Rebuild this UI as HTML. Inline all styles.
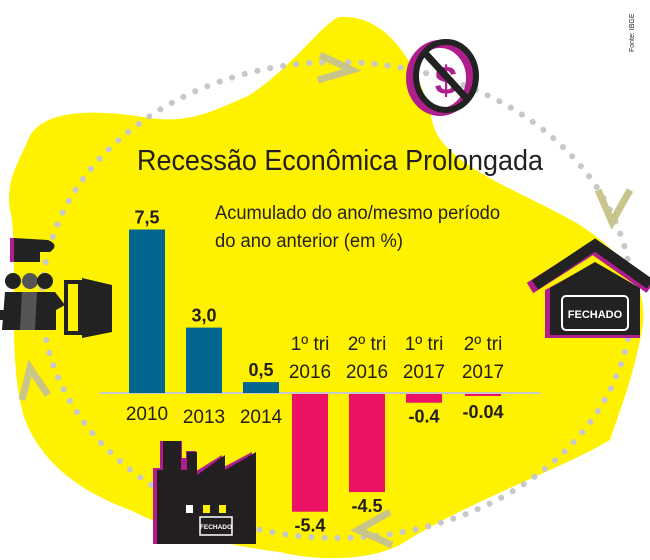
<!DOCTYPE html>
<html><head><meta charset="utf-8"><style>
html,body{margin:0;padding:0;background:#fff;}
#wrap{position:relative;width:650px;height:560px;overflow:hidden;font-family:"Liberation Sans",sans-serif;}
svg text{font-family:"Liberation Sans",sans-serif;}
</style></head><body>
<div id="wrap">
<svg id="chart" width="650" height="560" viewBox="0 0 650 560">
  <path fill="#fef200" d="M28,140 C40,110 90,108 150,118 C190,124 215,110 248,96 C290,70 325,20 340,17 C390,14 420,70 432,120 C440,165 520,190 580,225 C640,265 650,300 640,340 C632,380 620,410 610,440 C560,470 470,500 400,545 C370,560 320,562 280,552 C220,545 170,530 130,510 C90,495 45,470 25,420 C5,360 20,250 10,210 C5,180 20,160 28,140 Z"/>
  <ellipse cx="337" cy="300" rx="295" ry="238" fill="none" stroke="#c8c8c8" stroke-width="6" stroke-linecap="round" stroke-dasharray="0.1 13"/>
  <path d="M320,55 L352,70 L318,80" fill="none" stroke="#c8c48a" stroke-width="7"/>
  <path d="M598,190 L612,222 L630,190" fill="none" stroke="#c8c48a" stroke-width="7"/>
  <path d="M390,512 L358,530 L392,545" fill="none" stroke="#c8c48a" stroke-width="7"/>
  <path d="M22,400 L30,368 L48,395" fill="none" stroke="#c8c48a" stroke-width="7"/>
  <g>
    <ellipse cx="440" cy="78" rx="30" ry="34" fill="none" stroke="#b01e8e" stroke-width="8"/>
    <ellipse cx="446" cy="76" rx="30" ry="34" fill="none" stroke="#222" stroke-width="6"/>
    <text x="446" y="94" font-size="40" font-weight="bold" fill="#b01e8e" text-anchor="middle">$</text>
    <line x1="424" y1="52" x2="468" y2="100" stroke="#222" stroke-width="7"/>
  </g>
  <text x="634" y="52" font-size="7" fill="#222" transform="rotate(-90 634 52)">Fonte: IBGE</text>
  <text x="340" y="170" font-size="29" fill="#231f20" text-anchor="middle" textLength="406" lengthAdjust="spacingAndGlyphs">Recessão Econômica Prolongada</text>
  <text x="215" y="219" font-size="19" fill="#231f20" textLength="285" lengthAdjust="spacingAndGlyphs">Acumulado do ano/mesmo período</text>
  <text x="215" y="247" font-size="19" fill="#231f20" textLength="188" lengthAdjust="spacingAndGlyphs">do ano anterior (em %)</text>
  <g>
    <rect x="10" y="238" width="4" height="24" fill="#b01e8e"/>
    <path d="M14,238 L48,240 Q60,245 50,252 L40,252 L40,262 L14,262 Z" fill="#222"/>
    <circle cx="13" cy="281" r="8" fill="#222"/><circle cx="30" cy="281" r="8" fill="#555"/><circle cx="45" cy="281" r="8" fill="#222"/>
    <path d="M2,330 L5,292 L22,292 L24,330 Z" fill="#222"/><path d="M20,330 L22,292 L38,292 L40,330 Z" fill="#555"/><path d="M35,330 L37,292 L55,292 L65,305 L56,310 L56,330 Z" fill="#222"/>
    <rect x="0" y="310" width="10" height="10" fill="#222"/><rect x="38" y="312" width="10" height="10" fill="#222"/>
    <rect x="64" y="280" width="18" height="55" fill="#222"/><rect x="68" y="284" width="10" height="47" fill="#fef200"/>
    <path d="M82,278 L112,285 L112,332 L82,338 Z" fill="#222"/>
  </g>
  <g>
    <path d="M530,288 L593,248 L650,288" fill="none" stroke="#b01e8e" stroke-width="12"/>
    <path d="M535,285 L595,245 L650,284" fill="none" stroke="#222" stroke-width="11"/>
    <path d="M545,290 L595,263 L640,290 L640,338 L545,338 Z" fill="#b01e8e"/>
    <path d="M550,288 L595,262 L640,288 L640,335 L550,335 Z" fill="#222"/>
    <rect x="562" y="296" width="66" height="34" rx="4" fill="none" stroke="#fff" stroke-width="2"/>
    <text x="595" y="318" font-size="11" font-weight="bold" fill="#fff" text-anchor="middle">FECHADO</text>
  </g>
  <g>
    <path d="M153,544 L153,468 L160,468 L160,441 L182,441 L182,458 L186,458 L186,451 L196,451 L196,470 L198,470 L222,455 L222,468 L252,452 L252,544 Z" fill="#b01e8e"/>
    <path d="M157,544 L157,470 L163,470 L163,441 L181,441 L181,470 L187,470 L187,452 L197,452 L197,475 L225,455 L225,470 L256,452 L256,544 Z" fill="#231f20"/>
    <rect x="186" y="505" width="7" height="8" fill="#fff"/><rect x="203" y="505" width="7" height="8" fill="#fef200"/><rect x="219" y="505" width="7" height="8" fill="#fef200"/>
    <rect x="200" y="517" width="32" height="18" fill="none" stroke="#fff" stroke-width="1.5"/>
    <text x="216" y="529" font-size="6.5" font-weight="bold" fill="#fff" text-anchor="middle">FECHADO</text>
  </g>
  <g id="bars"></g>
</svg>
<script>
const categories=["2010","2013","2014","1º tri|2016","2º tri|2016","1º tri|2017","2º tri|2017"];
const values=[7.5,3.0,0.5,-5.4,-4.5,-0.4,-0.04];
const valueLabels=["7,5","3,0","0,5","-5.4","-4.5","-0.4","-0.04"];
const NS="http://www.w3.org/2000/svg";
const baseY=393, scale=21.8, x0=129, step=57, bw=36;
function xPos(i){return x0+i*step+(i>=3?-8:0)+(i>=6?2:0);}
function yPos(v){return baseY-v*scale;}
const g=document.getElementById('bars');
const base=document.createElementNS(NS,'line');
base.setAttribute('x1',100);base.setAttribute('x2',540);base.setAttribute('y1',baseY);base.setAttribute('y2',baseY);
base.setAttribute('stroke','#c8c8c8');base.setAttribute('stroke-width','2');


g.appendChild(base);
values.forEach((v,i)=>{
  const x=xPos(i), y=yPos(v);
  const r=document.createElementNS(NS,'rect');
  r.setAttribute('x',x);r.setAttribute('width',bw);
  r.setAttribute('y',Math.min(y,baseY)+(v<0?1:0));
  r.setAttribute('height',Math.max(Math.abs(baseY-y),2));
  r.setAttribute('fill',v>=0?'#00658f':'#ec1164');
  
  
  g.appendChild(r);
  const t=document.createElementNS(NS,'text');
  t.setAttribute('x',x+bw/2);t.setAttribute('text-anchor','middle');
  t.setAttribute('font-size','18');t.setAttribute('font-weight','bold');t.setAttribute('fill','#231f20');
  t.setAttribute('y',v>=0?y-6:Math.max(y,baseY+4)+21);
  t.textContent=valueLabels[i];
  
  
  g.appendChild(t);
  const parts=categories[i].split('|');
  parts.forEach((p,j)=>{
    const c=document.createElementNS(NS,'text');
    c.setAttribute('x',x+bw/2);c.setAttribute('text-anchor','middle');
    c.setAttribute('font-size','19');c.setAttribute('fill','#231f20');
    if(v>=0){c.setAttribute('y',baseY+27+(i>0?3:0));}
    else{c.setAttribute('y',parts.length>1?(j==0?350:378):0);}
    c.textContent=p;
    
    
    g.appendChild(c);
  });
});
</script>
</div>
</body></html>
